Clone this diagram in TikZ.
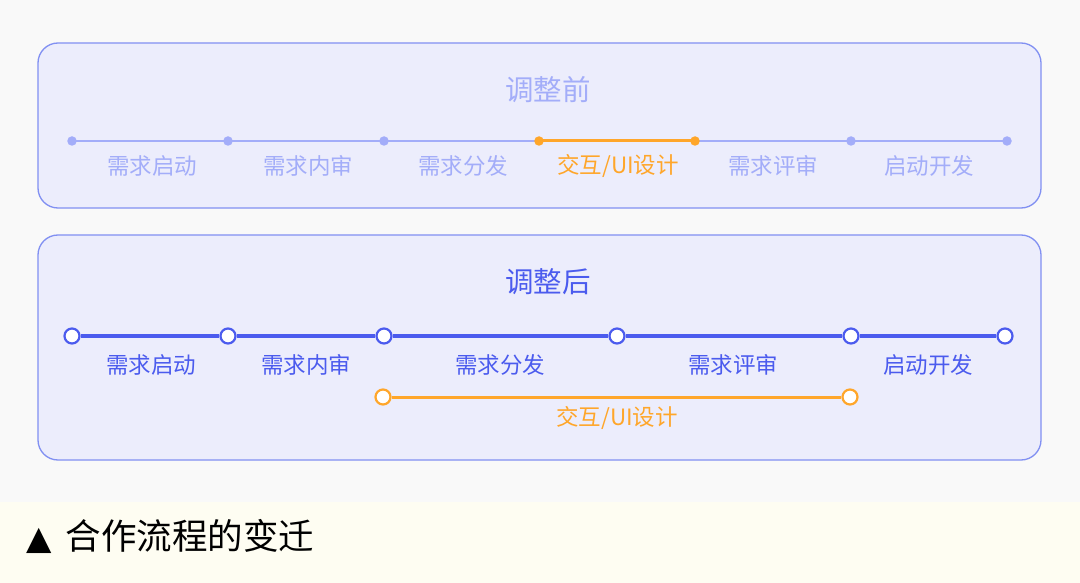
\documentclass[tikz,border=0pt]{standalone}
\usepackage{fontspec}
\setmainfont{Noto Sans CJK SC}
\newfontfamily\symf{DejaVu Sans}
\definecolor{bgA}{HTML}{F9F9F9}
\definecolor{bgB}{HTML}{FEFDF2}
\definecolor{boxfill}{HTML}{ECEDFC}
\definecolor{boxline}{HTML}{8190F2}
\definecolor{lightblue}{HTML}{A3ADF9}
\definecolor{darkblue}{HTML}{4B5BEE}
\definecolor{orangeC}{HTML}{FFA62A}
\begin{document}
\begin{tikzpicture}[x=1pt,y=-1pt,
  panel/.style={draw=boxline,line width=1.3pt,fill=boxfill,rounded corners=20pt},
  lightdot/.style={circle,fill=lightblue,inner sep=0pt,minimum size=9.5pt},
  orangedot/.style={circle,fill=orangeC,inner sep=0pt,minimum size=9.5pt},
  hollowB/.style={circle,draw=darkblue,fill=white,line width=2.2pt,inner sep=0pt,minimum size=15pt},
  hollowO/.style={circle,draw=orangeC,fill=white,line width=2.2pt,inner sep=0pt,minimum size=15pt},
  lightline/.style={draw=lightblue,line width=2.5pt},
  orangeline/.style={draw=orangeC,line width=3pt},
  darkline/.style={draw=darkblue,line width=3.5pt},
  lbl/.style={font=\fontsize{22.5}{22.5}\selectfont,inner sep=0pt,anchor=center},
  ttl/.style={font=\fontsize{28.5}{28.5}\selectfont,inner sep=0pt,anchor=center}
]
\useasboundingbox (0,0) rectangle (1080,583);
\fill[bgA] (0,0) rectangle (1080,502);
\fill[bgB] (0,502) rectangle (1080,583);

% top panel
\draw[panel] (38,43) rectangle (1041,208);
\node[ttl,text=lightblue] (t1) at (548,90) {调整前};
\foreach \n/\x in {a1/72,a2/228,a3/384,a4/539,a5/695,a6/851,a7/1007}
  \coordinate (\n) at (\x,141);
\draw[lightline] (a1) -- (a4);
\draw[lightline] (a5) -- (a7);
\draw[orangeline] (a4) -- (a5);
\foreach \n in {a1,a2,a3,a6,a7} \node[lightdot] at (\n) {};
\foreach \n in {a4,a5} \node[orangedot] at (\n) {};
\node[lbl,text=lightblue] (l1) at (152,166) {需求启动};
\node[lbl,text=lightblue] (l2) at (308,166) {需求内审};
\node[lbl,text=lightblue] (l3) at (463,166) {需求分发};
\node[lbl,text=orangeC] (l4) at (618,166) {交互/UI设计};
\node[lbl,text=lightblue] (l5) at (773,166) {需求评审};
\node[lbl,text=lightblue] (l6) at (929,166) {启动开发};

% bottom panel
\draw[panel] (38,235) rectangle (1041,460);
\node[ttl,text=darkblue] (t2) at (548,282) {调整后};
\foreach \n/\x in {b1/72,b2/228,b3/384,b4/617,b5/851,b6/1005}
  \node[hollowB] (\n) at (\x,336) {};
\draw[darkline] (b1) -- (b2);
\draw[darkline] (b2) -- (b3);
\draw[darkline] (b3) -- (b4);
\draw[darkline] (b4) -- (b5);
\draw[darkline] (b5) -- (b6);
\node[lbl,text=darkblue] (m1) at (151,365) {需求启动};
\node[lbl,text=darkblue] (m2) at (306,365) {需求内审};
\node[lbl,text=darkblue] (m3) at (500,365) {需求分发};
\node[lbl,text=darkblue] (m4) at (733,365) {需求评审};
\node[lbl,text=darkblue] (m5) at (928,365) {启动开发};
\node[hollowO] (o1) at (383,397) {};
\node[hollowO] (o2) at (850,397) {};
\draw[orangeline] (o1) -- (o2);
\node[lbl,text=orangeC] (m6) at (617,418) {交互/UI设计};

% caption
\node[font=\fontsize{35.5}{35.5}\selectfont,inner sep=0pt,anchor=west] (cap) at (26,536) {{\symf\fontsize{33}{33}\selectfont ▲}\hspace{14pt}合作流程的变迁};
\end{tikzpicture}
\end{document}
